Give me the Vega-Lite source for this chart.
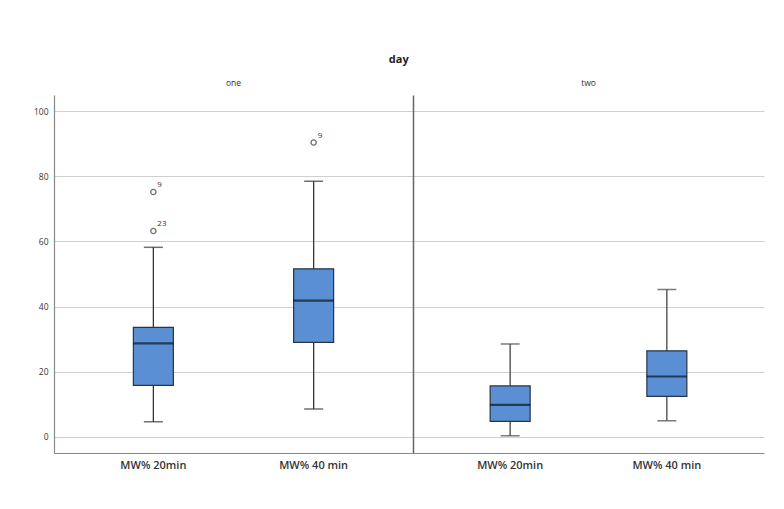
{
  "$schema": "https://vega.github.io/schema/vega-lite/v6.json",
  "background": "white",
  "padding": {"left": 33, "top": 53, "right": 5, "bottom": 5},
  "title": {"text": "day", "fontSize": 11, "fontWeight": "bold", "font": "Open Sans", "color": "#222", "anchor": "middle", "offset": 14},
  "datasets": {
    "boxes": [
      {"day": "one", "var": "MW% 20min", "lower": 4.6, "q1": 15.8, "median": 28.7, "q3": 33.6, "upper": 58.2},
      {"day": "one", "var": "MW% 40 min", "lower": 8.5, "q1": 29.0, "median": 41.8, "q3": 51.6, "upper": 78.5},
      {"day": "two", "var": "MW% 20min", "lower": 0.3, "q1": 4.7, "median": 9.8, "q3": 15.6, "upper": 28.5},
      {"day": "two", "var": "MW% 40 min", "lower": 4.9, "q1": 12.4, "median": 18.5, "q3": 26.4, "upper": 45.2}
    ],
    "outliers": [
      {"day": "one", "var": "MW% 20min", "value": 63.2, "case": "23"},
      {"day": "one", "var": "MW% 20min", "value": 75.2, "case": "9"},
      {"day": "one", "var": "MW% 40 min", "value": 90.4, "case": "9"}
    ]
  },
  "spacing": 0,
  "hconcat": [
    {
      "width": 359,
      "height": 358,
      "title": {"text": "one", "fontSize": 8.5, "fontWeight": "normal", "font": "Open Sans", "color": "#333", "offset": 8},
      "encoding": {
        "x": {"field": "var", "type": "nominal", "sort": ["MW% 20min", "MW% 40 min"], "scale": {"paddingInner": 0, "paddingOuter": 0.12},
              "axis": {"title": null, "labelAngle": 0, "ticks": false, "labelFontSize": 11, "labelFont": "Open Sans", "labelFontWeight": 600, "labelColor": "#333", "labelPadding": 6, "domainColor": "#888", "domainWidth": 1.2, "grid": false}}
      },
      "layer": [
        {"data": {"name": "boxes"}, "transform": [{"filter": "datum.day === 'one'"}], "mark": {"type": "rule", "color": "#333", "strokeWidth": 1.3},
         "encoding": {"y": {"field": "lower", "type": "quantitative", "scale": {"domain": [-5, 105], "nice": false, "zero": false},
                            "axis": {"title": null, "values": [0, 20, 40, 60, 80, 100], "ticks": false, "labelFontSize": 8.5, "labelFont": "Open Sans", "labelColor": "#333", "labelPadding": 6, "domainColor": "#888", "domainWidth": 1.2, "grid": true, "gridColor": "#cfcfcf", "gridWidth": 1.2}},
                      "y2": {"field": "upper"}}},
        {"data": {"name": "boxes"}, "transform": [{"filter": "datum.day === 'one'"}], "mark": {"type": "tick", "color": "#333", "size": 19, "thickness": 1.5, "orient": "horizontal"},
         "encoding": {"y": {"field": "lower", "type": "quantitative"}}},
        {"data": {"name": "boxes"}, "transform": [{"filter": "datum.day === 'one'"}], "mark": {"type": "tick", "color": "#333", "size": 19, "thickness": 1.5, "orient": "horizontal"},
         "encoding": {"y": {"field": "upper", "type": "quantitative"}}},
        {"data": {"name": "boxes"}, "transform": [{"filter": "datum.day === 'one'"}], "mark": {"type": "bar", "width": 40, "fill": "#5b8fd4", "stroke": "#2a3440", "strokeWidth": 1.2},
         "encoding": {"y": {"field": "q1", "type": "quantitative"}, "y2": {"field": "q3"}}},
        {"data": {"name": "boxes"}, "transform": [{"filter": "datum.day === 'one'"}], "mark": {"type": "tick", "color": "#0d1620", "size": 40, "thickness": 2.2, "orient": "horizontal"},
         "encoding": {"y": {"field": "median", "type": "quantitative"}}},
        {"data": {"name": "outliers"}, "transform": [{"filter": "datum.day === 'one'"}], "mark": {"type": "point", "shape": "circle", "filled": false, "size": 28, "color": "#333", "strokeWidth": 1.3},
         "encoding": {"y": {"field": "value", "type": "quantitative"}}},
        {"data": {"name": "outliers"}, "transform": [{"filter": "datum.day === 'one'"}], "mark": {"type": "text", "align": "left", "baseline": "middle", "dx": 4, "dy": -7, "fontSize": 8, "font": "Open Sans", "color": "#333"},
         "encoding": {"y": {"field": "value", "type": "quantitative"}, "text": {"field": "case"}}}
      ]
    },
    {
      "width": 351,
      "height": 358,
      "title": {"text": "two", "fontSize": 8.5, "fontWeight": "normal", "font": "Open Sans", "color": "#333", "offset": 8},
      "encoding": {
        "x": {"field": "var", "type": "nominal", "sort": ["MW% 20min", "MW% 40 min"], "scale": {"paddingInner": 0, "paddingOuter": 0.12},
              "axis": {"title": null, "labelAngle": 0, "ticks": false, "labelFontSize": 11, "labelFont": "Open Sans", "labelFontWeight": 600, "labelColor": "#333", "labelPadding": 6, "domainColor": "#888", "domainWidth": 1.2, "grid": false}}
      },
      "layer": [
        {"data": {"name": "boxes"}, "transform": [{"filter": "datum.day === 'two'"}], "mark": {"type": "rule", "color": "#444", "strokeWidth": 1.3},
         "encoding": {"y": {"field": "lower", "type": "quantitative", "scale": {"domain": [-5, 105], "nice": false, "zero": false},
                            "axis": {"title": null, "values": [0, 20, 40, 60, 80, 100], "ticks": false, "labels": false, "domainColor": "#666", "domainWidth": 1.5, "grid": true, "gridColor": "#cfcfcf", "gridWidth": 1.2}},
                      "y2": {"field": "upper"}}},
        {"data": {"name": "boxes"}, "transform": [{"filter": "datum.day === 'two'"}], "mark": {"type": "tick", "color": "#444", "size": 19, "thickness": 1.5, "orient": "horizontal"},
         "encoding": {"y": {"field": "lower", "type": "quantitative"}}},
        {"data": {"name": "boxes"}, "transform": [{"filter": "datum.day === 'two'"}], "mark": {"type": "tick", "color": "#444", "size": 19, "thickness": 1.5, "orient": "horizontal"},
         "encoding": {"y": {"field": "upper", "type": "quantitative"}}},
        {"data": {"name": "boxes"}, "transform": [{"filter": "datum.day === 'two'"}], "mark": {"type": "bar", "width": 40, "fill": "#5b8fd4", "stroke": "#2a3440", "strokeWidth": 1.2},
         "encoding": {"y": {"field": "q1", "type": "quantitative"}, "y2": {"field": "q3"}}},
        {"data": {"name": "boxes"}, "transform": [{"filter": "datum.day === 'two'"}], "mark": {"type": "tick", "color": "#0d1620", "size": 40, "thickness": 2.2, "orient": "horizontal"},
         "encoding": {"y": {"field": "median", "type": "quantitative"}}}
      ]
    }
  ],
  "config": {"view": {"stroke": null}, "concat": {"spacing": 0}}
}
